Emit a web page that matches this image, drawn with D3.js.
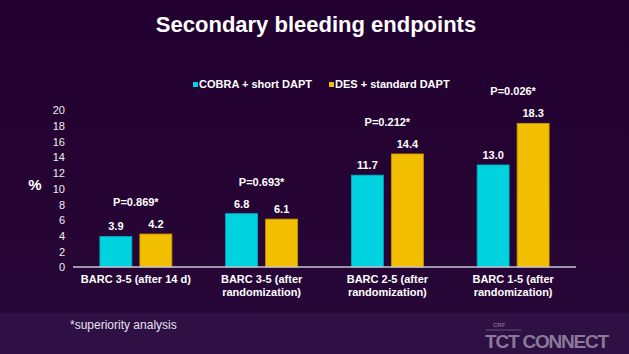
<!DOCTYPE html>
<html>
<head>
  <meta charset="utf-8">
  <title>Secondary bleeding endpoints</title>
  <script src="https://d3js.org/d3.v7.min.js"></script>
  <style>
    html, body {
      margin: 0;
      padding: 0;
      background: #23002f;
      font-family: "Liberation Sans", Arial, sans-serif;
    }
    .title { font-size: 22px; font-weight: 700; fill: #fff; }
    .tick text { font-size: 11px; fill: #eee; }
    .lbl { font-size: 11px; font-weight: 700; fill: #fff; }
  </style>
</head>
<body>
  <svg id="chart" width="629" height="354"></svg>

  <script>
    // data
    const categories = [["BARC 3-5 (after 14 d)"], ["BARC 3-5 (after", "randomization)"], ["BARC 2-5 (after", "randomization)"], ["BARC 1-5 (after", "randomization)"]];
    const seriesNames = ["COBRA + short DAPT", "DES + standard DAPT"];
    const cobra = [3.9, 6.8, 11.7, 13.0];
    const des = [4.2, 6.1, 14.4, 18.3];
    const pValues = ["P=0.869*", "P=0.693*", "P=0.212*", "P=0.026*"];
    const yTicks = [0, 2, 4, 6, 8, 10, 12, 14, 16, 18, 20];
    const colors = ["#00d3df", "#f2be00"];

    const svg = d3.select("#chart");

    // background + lighter footer band
    const defs = svg.append("defs");
    const grad = defs.append("linearGradient").attr("id", "bg").attr("x1", 0).attr("y1", 0).attr("x2", 0).attr("y2", 1);
    grad.append("stop").attr("offset", "0%").attr("stop-color", "#220030");
    grad.append("stop").attr("offset", "100%").attr("stop-color", "#280838");
    svg.append("rect").attr("width", 629).attr("height", 354).attr("fill", "url(#bg)");
    svg.append("rect").attr("y", 313).attr("width", 629).attr("height", 41).attr("fill", "#32144a").attr("opacity", 0.7);

    svg.append("text").attr("class", "title")
      .attr("x", 316).attr("y", 32).attr("text-anchor", "middle")
      .text("Secondary bleeding endpoints");

    const x = d3.scaleBand().domain(d3.range(categories.length)).range([73, 576]);
    const xs = d3.scaleBand().domain([0, 1]).range([0, 72]).paddingInner(0.2);
    const y = d3.scaleLinear().domain([0, 20]).range([267, 110]);

    // y axis
    const yAxis = svg.append("g").attr("transform", "translate(65,0)")
      .call(d3.axisLeft(y).tickValues(yTicks).tickSize(0).tickPadding(0));
    yAxis.select(".domain").remove();
    yAxis.selectAll("text").attr("dy", "0.35em");

    svg.append("text").attr("x", 35).attr("y", 190).attr("text-anchor", "middle")
      .attr("fill", "#fff").style("font-size", "15px").style("font-weight", 700).text("%");

    const groups = svg.selectAll(".grp").data(categories).join("g")
      .attr("class", "grp")
      .attr("transform", (d, i) => `translate(${x(i) + x.bandwidth() / 2 - 36},0)`);

    const series = [cobra, des];
    series.forEach((vals, s) => {
      groups.append("rect")
        .attr("x", xs(s))
        .attr("width", xs.bandwidth())
        .attr("y", (d, i) => y(vals[i]))
        .attr("height", (d, i) => y(0) - y(vals[i]))
        .attr("fill", colors[s])
        .attr("stroke", s ? "#c99600" : "#00a9b8")
        .attr("stroke-width", 0.8);
      groups.append("text").attr("class", "lbl")
        .attr("x", xs(s) + xs.bandwidth() / 2)
        .attr("y", (d, i) => y(vals[i]) - 6)
        .attr("text-anchor", "middle")
        .text((d, i) => vals[i].toFixed(1));
    });

    groups.append("text").attr("class", "lbl")
      .attr("x", 36)
      .attr("y", (d, i) => y(Math.max(cobra[i], des[i])) - 28)
      .attr("text-anchor", "middle")
      .text((d, i) => pValues[i]);

    // baseline
    svg.append("line").attr("x1", 73).attr("x2", 576).attr("y1", y(0)).attr("y2", y(0))
      .attr("stroke", "#c9c6d2").attr("stroke-width", 1.5);

    // category labels
    groups.append("text").attr("class", "lbl")
      .attr("text-anchor", "middle")
      .selectAll("tspan").data(d => d).join("tspan")
      .attr("x", 36)
      .attr("y", (d, j) => 283 + j * 13)
      .text(d => d);

    // legend
    const leg = svg.append("g").selectAll("g").data(seriesNames).join("g")
      .attr("transform", (d, i) => `translate(${[193, 329][i]},86)`);
    leg.append("rect").attr("y", -4).attr("width", 5).attr("height", 5).attr("fill", (d, i) => colors[i]);
    leg.append("text").attr("class", "lbl").attr("x", 6).attr("y", 2).text(d => d);

    // footnote
    svg.append("text").attr("x", 70).attr("y", 329).attr("fill", "#e6e0ee")
      .style("font-size", "12px").text("*superiority analysis");

    // logo
    svg.append("text").attr("x", 493).attr("y", 327).attr("fill", "#7d6a8e")
      .style("font-size", "6px").style("font-weight", 700).text("CRF");
    svg.append("line").attr("x1", 486).attr("x2", 521).attr("y1", 330).attr("y2", 330)
      .attr("stroke", "#7d6a8e").attr("stroke-width", 0.7);
    svg.append("text").attr("x", 485).attr("y", 348).attr("fill", "#8a7a9a")
      .style("font-size", "19px").style("font-weight", 700).style("letter-spacing", "-1.2px").text("TCT CONNECT");
  </script>
</body>
</html>
